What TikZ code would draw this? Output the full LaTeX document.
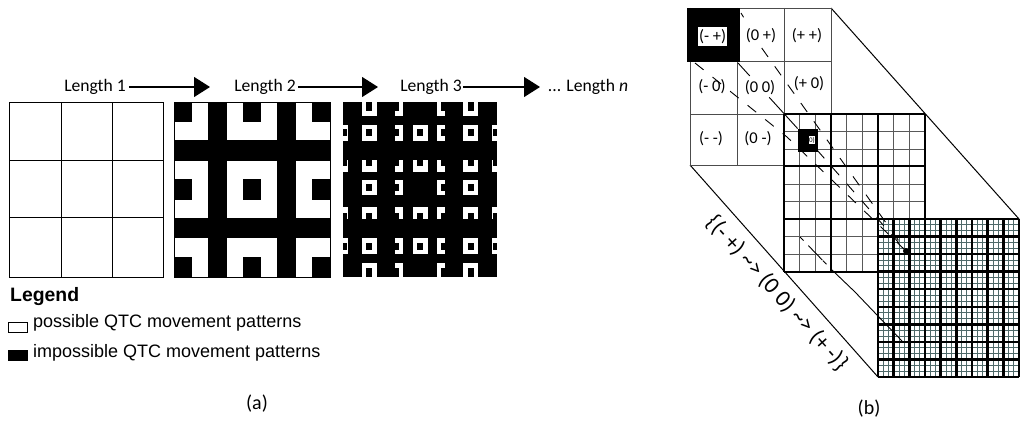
\documentclass[tikz,border=0pt]{standalone}
\usepackage{fontspec}
\setmainfont{Carlito}
\newfontfamily\legendfont{Liberation Sans}
\usetikzlibrary{arrows.meta,calc}
\definecolor{finegray}{HTML}{4F6A6A}
\tikzset{
  lenlabel/.style = {font = \fontsize{17.6}{20}\selectfont, inner sep = 0pt},
  lenarrow/.style = {draw, line width = 1.2pt, -{Triangle[width = 20pt, length = 16pt]}},
  celllabel/.style = {font = \fontsize{16.5}{18}\selectfont, inner sep = 0pt},
  legendtext/.style = {font = \legendfont\fontsize{18}{20}\selectfont, inner sep = 0pt, anchor = west},
  dashline/.style = {draw, line width = 0.9pt, dash pattern = on 11pt off 11.5pt},
}
\begin{document}
\begin{tikzpicture}[x = 1pt, y = -1pt]
\useasboundingbox (0,0) rectangle (1024,430);
% length labels and arrows
\node[lenlabel](len1)at(95,87){Length 1};
\node[lenlabel](len2)at(265,87){Length 2};
\node[lenlabel](len3)at(431,87){Length 3};
\node[lenlabel](lenn)at(588,87){... Length \textit{n}};
\coordinate(t1)at(210,87);
\coordinate(t2)at(378,87);
\coordinate(t3)at(540,87);
\path[lenarrow]($(len1.east)+(3,0)$)to(t1);
\path[lenarrow]($(len2.east)+(2,0)$)to(t2);
\path[lenarrow]($(len3.east)+(1,0)$)to(t3);
% length 1 grid
\path[draw, line width = 1pt](9,103)rectangle(163,277);
\foreach \x in {61,112} \path[draw, line width = 0.8pt](\x,103)to(\x,277);
\foreach \y in {160,217} \path[draw, line width = 0.8pt](9,\y)to(163,\y);
% length 2 pattern
\path[draw, line width = 0.6pt](174,102)rectangle(330,277);
\foreach \xa/\xb in {208/227,277/296} \path[fill = black](\xa,102)rectangle(\xb,277);
\foreach \ya/\yb in {140/161,218/238} \path[fill = black](174,\ya)rectangle(330,\yb);
\foreach \xa/\xb in {174/192,243/261,312/330}
  \foreach \ya/\yb in {102/122,179/200,257/277}
    \path[fill = black](\xa,\ya)rectangle(\xb,\yb);
% length 3 pattern
\path[fill = black](343,102)rectangle(497,277);
\foreach \xa/\xb/\ia/\ib/\k in {343/348.3/343/346.7/1,361.7/376.7/366/372.3/0,395/403.3/395/399.3/0,412.5/427.5/417/423/1,436.7/445/440.7/445/0,463.3/478.3/467.7/474/0,491.7/497/493.3/497/1}
  \foreach \ya/\yb/\ja/\jb/\m in {102/116/102/110.7/1,124.7/140.7/128.7/136.3/0,160/171.7/160/166/0,180/195/184/191.5/1,207.3/219/213/219/0,238.3/254.3/242.7/250.3/0,263/277/268.3/277/1}{
    \ifnum\numexpr\k+\m\relax<2
      \path[fill = white](\xa,\ya)rectangle(\xb,\yb);
      \path[fill = black](\ia,\ja)rectangle(\ib,\jb);
    \fi
  }
% legend
\node[inner sep = 0pt, anchor = west, font = \legendfont\bfseries\fontsize{19.4}{22}\selectfont](legend)at(10,297){Legend};
\node[draw, line width = 0.7pt, minimum width = 19pt, minimum height = 10pt, inner sep = 0pt](swpos)at(17.5,327){};
\node[draw, fill = black, minimum width = 19pt, minimum height = 10pt, inner sep = 0pt](swimp)at(17.5,355){};
\node[legendtext](txtpos)at(33,323){possible QTC movement patterns};
\node[legendtext](txtimp)at(33,353){impossible QTC movement patterns};
\node[inner sep = 0pt, font = \fontsize{20}{22}\selectfont](capa)at(257,404){(a)};
% outline of the zoom
\coordinate(A)at(831,8);
\coordinate(B)at(1019,219);
\coordinate(C)at(690,165);
\coordinate(D)at(878,377);
\path[draw, line width = 1pt](A)to(B);
\path[draw, line width = 1pt](C)to(D);
% first level
\foreach \x in {690,737,784,831} \path[draw, gray!60!black, line width = 0.9pt](\x,8)to(\x,165);
\foreach \y in {8,61,114,165} \path[draw, gray!60!black, line width = 0.9pt](690,\y)to(831,\y);
\path[fill = black](687,8)rectangle(740,62);
\node[celllabel, fill = white, minimum width = 29pt, minimum height = 19pt](mm)at(712.5,37){(- +)};
\node[celllabel](om)at(761,36){(0 +)};
\node[celllabel](pm)at(807,36){(+ +)};
\node[celllabel](mo)at(712,87){(- 0)};
\node[celllabel](oo)at(760,88){(0 0)};
\node[celllabel](po)at(809,84){(+ 0)};
\node[celllabel](mp)at(711,139){(- -)};
\node[celllabel](op)at(758,139){(0 -)};
% second level
\path[fill = white](784,114)rectangle(925,272);
\foreach \i in {0,...,9} \path[draw, gray!70!black, line width = 1pt]({784+\i*141/9},114)to({784+\i*141/9},272);
\foreach \i in {0,...,9} \path[draw, gray!70!black, line width = 1pt](784,{114+\i*158/9})to(925,{114+\i*158/9});
\foreach \x in {784,831,878,925} \path[draw, line width = 1.9pt](\x,114)to(\x,272);
\foreach \y in {114,166,219,272} \path[draw, line width = 1.9pt](784,\y)to(925,\y);
\path[fill = black](798,129)rectangle(818,152);
\node[fill = white, inner sep = 0.5pt, font = \fontsize{7}{8}\selectfont](mini)at(812,140){0)};
% third level
\path[fill = white](878,219)rectangle(1019,377);
\foreach \i in {0,...,27} \path[draw, finegray, line width = 0.8pt]({878+\i*141/27},219)to({878+\i*141/27},377);
\foreach \i in {0,...,27} \path[draw, finegray, line width = 0.8pt](878,{219+\i*158/27})to(1019,{219+\i*158/27});
\foreach \i in {0,...,9} \path[draw, line width = 2.4pt]({878+\i*141/9},219)to({878+\i*141/9},377);
\foreach \i in {0,...,9} \path[draw, line width = 2.4pt](878,{219+\i*158/9})to(1019,{219+\i*158/9});
% paths across the levels
\coordinate(s1)at(741,13);
\coordinate(s2)at(695,63);
\coordinate(s3)at(738,63);
\coordinate(s4)at(800,237);
\coordinate(m1)at(761.7,48);
\coordinate(m2)at(787,137);
\coordinate(m4)at(798,129);
\coordinate(m5)at(831,269);
\coordinate(m6)at(855,292);
\coordinate(m7)at(877,315);
\coordinate(e1)at(906,251);
\coordinate(e4)at(902,341);
\path[draw, line width = 0.9pt, dash pattern = on 5pt off 100pt](s1)to(m1);
\path[dashline](m1)to(e1);
\path[dashline](s2)to(m2)to(e1);
\path[draw, line width = 0.9pt, dash pattern = on 17.5pt off 29pt on 42pt off 100pt](s3)to(m4);
\path[dashline]($(m4)+(19,21)$)to(e1);
\path[draw, line width = 0.9pt, dash pattern = on 5pt off 7pt on 20pt off 1pt](s4)to(m5);
\path[draw, line width = 0.9pt](m5)to(m6)to(m7)to(e4);
\path[fill = black](e1)circle(3);
% captions
\node[inner sep = 0pt, rotate = -48, font = \fontsize{23}{26}\selectfont](path)at(777,293){\{(- +) \char"007E> (0 0) \char"007E> (+ -)\}};
\node[inner sep = 0pt, font = \fontsize{20}{22}\selectfont](capb)at(869,409){(b)};
\end{tikzpicture}
\end{document}
